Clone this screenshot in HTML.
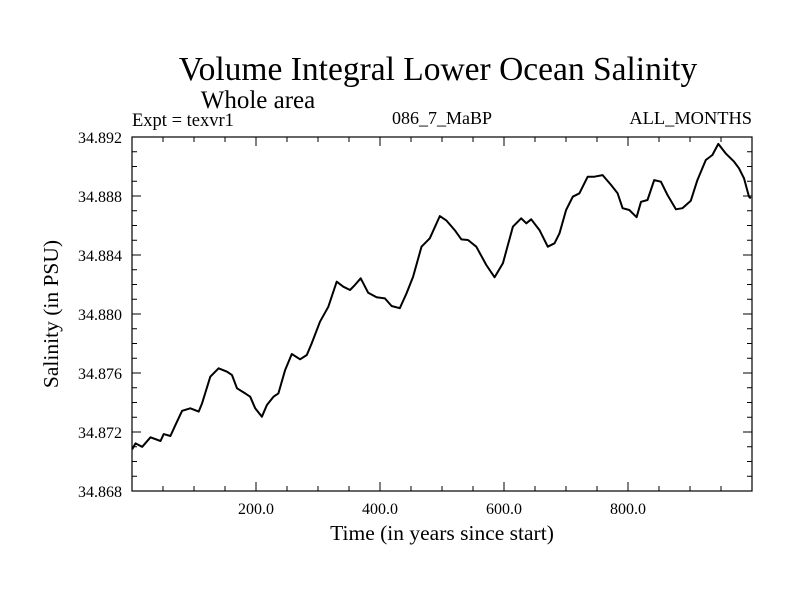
<!DOCTYPE html>
<html><head><meta charset="utf-8"><style>
html,body{margin:0;padding:0;background:#fff;}
svg{display:block;font-family:"Liberation Serif",serif;}
</style></head><body>
<svg id="chart" width="800" height="600" viewBox="0 0 800 600">
<rect width="800" height="600" fill="#fff"/>
<text x="438" y="80" font-size="33.5" text-anchor="middle">Volume Integral Lower Ocean Salinity</text>
<text x="258" y="108" font-size="25" text-anchor="middle">Whole area</text>
<text x="132" y="126" font-size="18.5">Expt = texvr1</text>
<text x="442" y="124" font-size="18" text-anchor="middle">086_7_MaBP</text>
<text x="752" y="124" font-size="18.4" text-anchor="end">ALL_MONTHS</text>
<text x="0" y="0" font-size="21.5" text-anchor="middle" transform="translate(58,314) rotate(-90)">Salinity (in PSU)</text>
<text x="442" y="540" font-size="21.5" text-anchor="middle">Time (in years since start)</text>
<g id="axes"></g>
<g id="series"></g>
</svg>
<script>
const years=[0.3,5.6,16.4,29.8,45.9,51.2,62,70,80.8,94.1,107.5,113,126.3,139.7,153.2,161.3,169.3,182.6,190.7,198.7,209.5,217.5,228.2,236.2,247,257.8,271.1,281.9,289.9,303.3,316.6,330.2,340.8,351.6,359.6,368.8,381,394.5,407.9,418.7,432,442.8,453.4,466.9,480.3,496.4,507.2,520.5,531.3,541.9,555.4,571.5,584.9,598.2,614.3,627.8,635.9,643.9,657.3,670.6,681.4,689.5,700.2,710.9,721.6,735,745.8,759.1,772.6,783.3,791.3,802.1,813.8,820.9,831.5,842.3,853.1,863.7,877.2,887.8,901.3,911.9,925.5,936.1,945.7,957.6,971,979,987.1,995.2,998];
const salinity=[34.87083,34.87123,34.871,34.87164,34.87139,34.87186,34.87173,34.87247,34.87344,34.87361,34.87338,34.87395,34.87575,34.87632,34.87609,34.87586,34.87496,34.87462,34.87439,34.87361,34.87304,34.87383,34.87439,34.87462,34.8762,34.87729,34.87693,34.87722,34.87801,34.87948,34.88049,34.88219,34.88185,34.88163,34.88197,34.88242,34.88144,34.88113,34.88106,34.88054,34.88039,34.8814,34.88253,34.88456,34.88513,34.88664,34.88633,34.88569,34.88506,34.88502,34.88456,34.88332,34.88249,34.88344,34.88592,34.88649,34.88615,34.88642,34.88569,34.88456,34.88479,34.88547,34.88705,34.88795,34.88818,34.88931,34.88931,34.88942,34.88875,34.88818,34.88717,34.88705,34.88656,34.88761,34.88773,34.88908,34.88897,34.88807,34.8871,34.88717,34.88768,34.88908,34.89044,34.89078,34.89153,34.89089,34.89033,34.88988,34.8892,34.88795,34.88784];
const xTickLabels=["200.0","400.0","600.0","800.0"];
const xTickValues=[200,400,600,800];
const yTickLabels=["34.868","34.872","34.876","34.880","34.884","34.888","34.892"];
const yTickValues=[34.868,34.872,34.876,34.880,34.884,34.888,34.892];

const L=132,R=752,T=137,B=491,X0=0,X1=1000,Y0=34.868,Y1=34.892;
const sx=v=>L+(v-X0)/(X1-X0)*(R-L);
const sy=v=>B-(v-Y0)/(Y1-Y0)*(B-T);
const NS="http://www.w3.org/2000/svg";
const axes=document.getElementById('axes');
function mk(tag,attrs,parent){const e=document.createElementNS(NS,tag);for(const k in attrs)e.setAttribute(k,attrs[k]);parent.appendChild(e);return e;}

const frame=mk('rect',{x:L,y:T,width:R-L,height:B-T,fill:'none',stroke:'#000','stroke-width':1.2},axes);



for(let v=50;v<1000;v+=50){
  const major=v%200===0, len=major?9:5, x=sx(v);
  const t1=mk('line',{x1:x,y1:B,x2:x,y2:B-len,stroke:'#000','stroke-width':1},axes);
  
  
  const t2=mk('line',{x1:x,y1:T,x2:x,y2:T+len,stroke:'#000','stroke-width':1},axes);
  
  
}
xTickLabels.forEach((lab,i)=>{
  const t=mk('text',{x:sx(xTickValues[i]),y:B+23,'font-size':16,'text-anchor':'middle'},axes);
  t.textContent=lab;
  
  
});
for(let k=1;k<24;k++){
  const v=Y0+k*0.001, major=k%4===0, len=major?9:5, y=sy(v);
  const t1=mk('line',{x1:L,y1:y,x2:L+len,y2:y,stroke:'#000','stroke-width':1},axes);
  
  
  const t2=mk('line',{x1:R,y1:y,x2:R-len,y2:y,stroke:'#000','stroke-width':1},axes);
  
  
}
yTickLabels.forEach((lab,i)=>{
  const t=mk('text',{x:L-10,y:sy(yTickValues[i])+6,'font-size':16,'text-anchor':'end'},axes);
  t.textContent=lab;
  
  
});
const d=years.map((yr,i)=>(i?'L':'M')+sx(yr).toFixed(1)+','+sy(salinity[i]).toFixed(1)).join(' ');
const line=mk('path',{d:d,fill:'none',stroke:'#000','stroke-width':2,'stroke-linejoin':'round'},document.getElementById('series'));


</script>
</body></html>
